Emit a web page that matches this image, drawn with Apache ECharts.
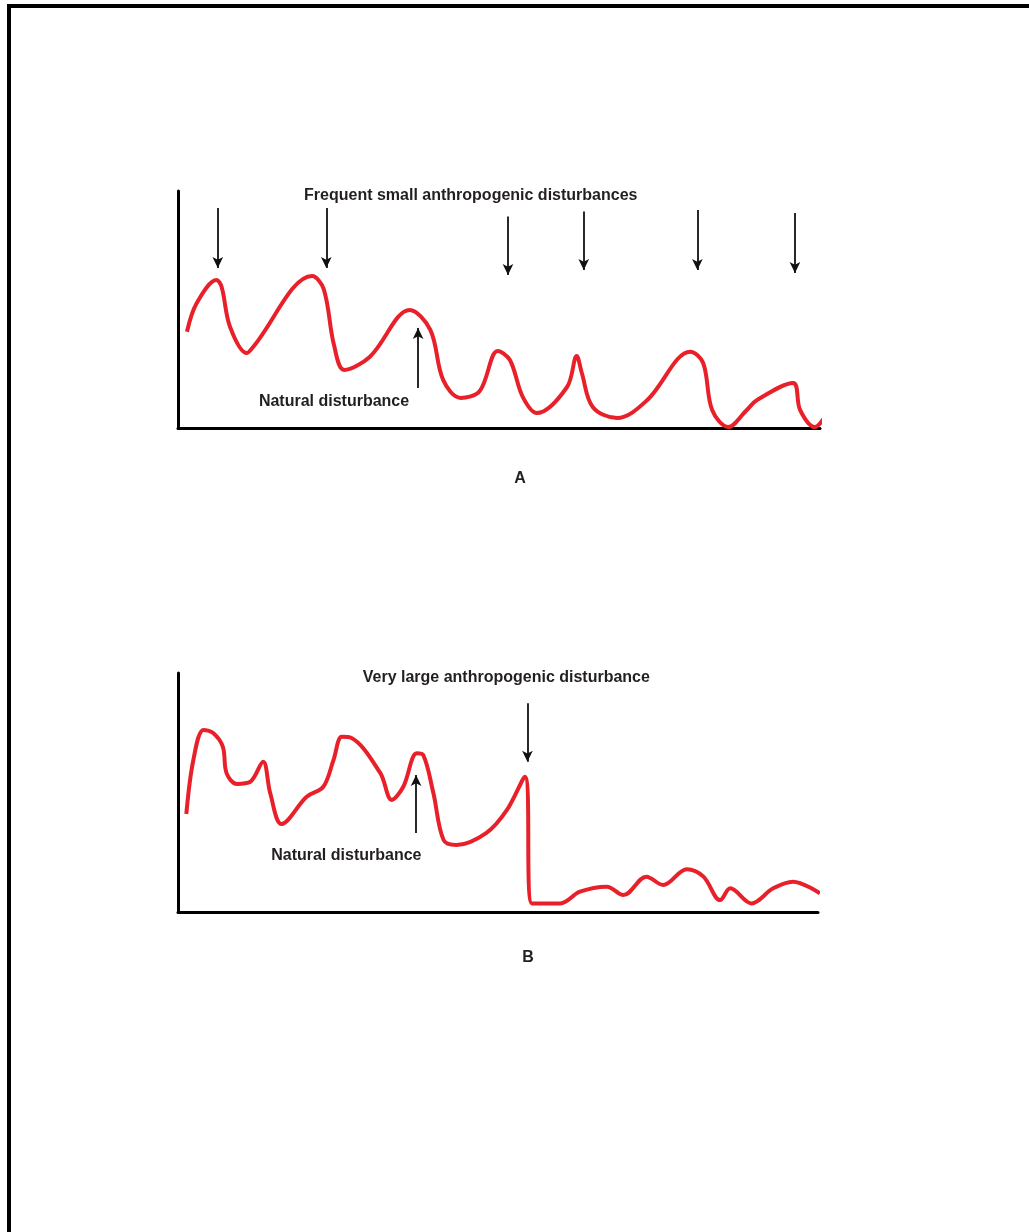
<!DOCTYPE html>
<html>
<head>
<meta charset="utf-8">
<script src="https://cdn.jsdelivr.net/npm/echarts@6/dist/echarts.min.js"></script>
<style>
html,body{margin:0;padding:0;background:#fff;}
#chart{width:1029px;height:1232px;}
</style>
</head>
<body>
<div id="chart"></div>
<script>
// Panel A curve (x: 0-100 along time axis, y: 0-100 state)
const curveA = [
  [1.4,40.6],[2.9,52.6],[6.0,62.4],[6.8,59.5],[8.1,42.7],[10.7,31.6],[11.7,34.2],
  [20.9,64.1],[22.7,58.6],[24.3,35.0],[25.9,24.5],[29.9,30.1],[36.1,49.8],[39.3,41.4],
  [41.3,20.3],[44.0,12.7],[47.0,15.6],[49.8,32.5],[51.7,28.7],[53.7,13.1],[55.9,6.3],
  [60.6,17.3],[62.1,30.4],[62.9,23.2],[64.6,8.9],[68.4,4.2],[73.1,11.8],[79.8,32.2],
  [81.8,27.4],[83.2,7.6],[85.7,0.4],[88.6,7.6],[90.2,11.8],[95.8,19.0],[96.9,7.6],
  [99.2,0.4],[101.1,6.3]
];
// Panel B curve
const curveB = [
  [1.3,41.0],[2.4,63.6],[4.0,76.2],[5.5,74.9],[7.0,69.2],[7.6,58.0],[9.2,53.6],
  [11.3,54.5],[13.3,62.9],[14.4,49.8],[16.2,36.8],[20.1,48.2],[22.7,52.4],[24.3,63.6],
  [25.6,73.3],[27.1,72.8],[31.6,58.2],[33.4,46.9],[35.2,52.4],[37.3,66.4],[38.3,65.7],
  [39.9,49.8],[41.5,30.1],[43.5,28.0],[48.2,33.1],[51.4,42.7],[54.2,56.6],[55.3,3.6],
  [59.7,3.6],[62.8,8.5],[67.0,10.6],[69.6,7.1],[73.2,14.8],[75.8,11.3],[79.5,17.9],
  [82.1,14.8],[84.7,5.0],[86.3,9.9],[89.6,3.6],[93.0,9.9],[96.1,12.7],[100.3,7.8]
];
// Arrows: [x, yStart, yEnd]
const arrowsA = [
  [6.2,92.8,67.5],[23.1,92.8,67.5],[51.4,89.2,64.6],[63.2,91.3,66.7],[80.9,92.0,66.7],[96.1,90.7,65.4],
  [37.4,16.9,42.2]
];
const arrowsB = [
  [54.6,87.3,62.9],[37.2,33.1,57.3]
];
// Annotations: [text, x, y]
const labelsA = [
  ['Frequent small anthropogenic disturbances',45.6,97.9],
  ['Natural disturbance',24.3,11.0]
];
const labelsB = [
  ['Very large anthropogenic disturbance',51.3,97.9],
  ['Natural disturbance',26.3,23.4]
];
const panelTitles = ['A','B'];

const RED = '#e8202a';
const INK = '#231f20';
const FONT = '"Liberation Sans", Arial, sans-serif';

function axisX(g){
  return {gridIndex:g,type:'value',min:0,max:100,
    axisLine:{show:true,onZero:false,lineStyle:{color:'#000',width:3}},
    axisTick:{show:false},axisLabel:{show:false},splitLine:{show:false}};
}
function axisY(g){
  return {gridIndex:g,type:'value',min:0,max:100,
    axisLine:{show:true,onZero:false,lineStyle:{color:'#000',width:3}},
    axisTick:{show:false},axisLabel:{show:false},splitLine:{show:false}};
}
function arrowLines(arr){
  return arr.map(a => [
    {coord:[a[0],a[1]],symbol:'none'},
    {coord:[a[0],a[2]],symbol:'arrow',symbolSize:[8,11]}
  ]);
}
function labelPoints(arr){
  return arr.map(l => ({name:l[0],coord:[l[1],l[2]],value:0}));
}
function series(idx, data, arrows, labels){
  return {
    type:'line', xAxisIndex:idx, yAxisIndex:idx, data:data,
    smooth:0.35, showSymbol:false, clip:false,
    lineStyle:{color:RED,width:4}, itemStyle:{color:RED},
    markLine:{silent:true,symbol:['none','arrow'],symbolSize:10,
      label:{show:false},lineStyle:{color:'#111',width:1.8,type:'solid'},
      itemStyle:{color:'#111'},
      emphasis:{disabled:true},
      data:arrowLines(arrows)},
    markPoint:{silent:true,symbol:'circle',symbolSize:0,
      label:{show:true,position:'inside',formatter:'{b}',color:INK,
        fontFamily:FONT,fontWeight:'bold',fontSize:16},
      data:labelPoints(labels)}
  };
}

const chart = echarts.init(document.getElementById('chart'),null,{renderer:'canvas'});
chart.setOption({
  animation:false,
  backgroundColor:'#fff',
  grid:[
    {left:178,top:191,width:642,height:237},
    {left:178,top:673,width:640,height:239}
  ],
  xAxis:[axisX(0),axisX(1)],
  yAxis:[axisY(0),axisY(1)],
  series:[
    series(0,curveA,arrowsA,labelsA),
    series(1,curveB,arrowsB,labelsB)
  ],
  graphic:[
    {type:'line',shape:{x1:9,y1:6,x2:1029,y2:6},style:{stroke:'#000',lineWidth:4}},
    {type:'line',shape:{x1:9,y1:4,x2:9,y2:1232},style:{stroke:'#000',lineWidth:4}},
    {type:'text',x:520,y:479,style:{text:panelTitles[0],fill:INK,font:'bold 16px '+FONT,textAlign:'center',textVerticalAlign:'middle'}},
    {type:'text',x:528,y:958,style:{text:panelTitles[1],fill:INK,font:'bold 16px '+FONT,textAlign:'center',textVerticalAlign:'middle'}}
  ]
});
</script>
</body>
</html>
